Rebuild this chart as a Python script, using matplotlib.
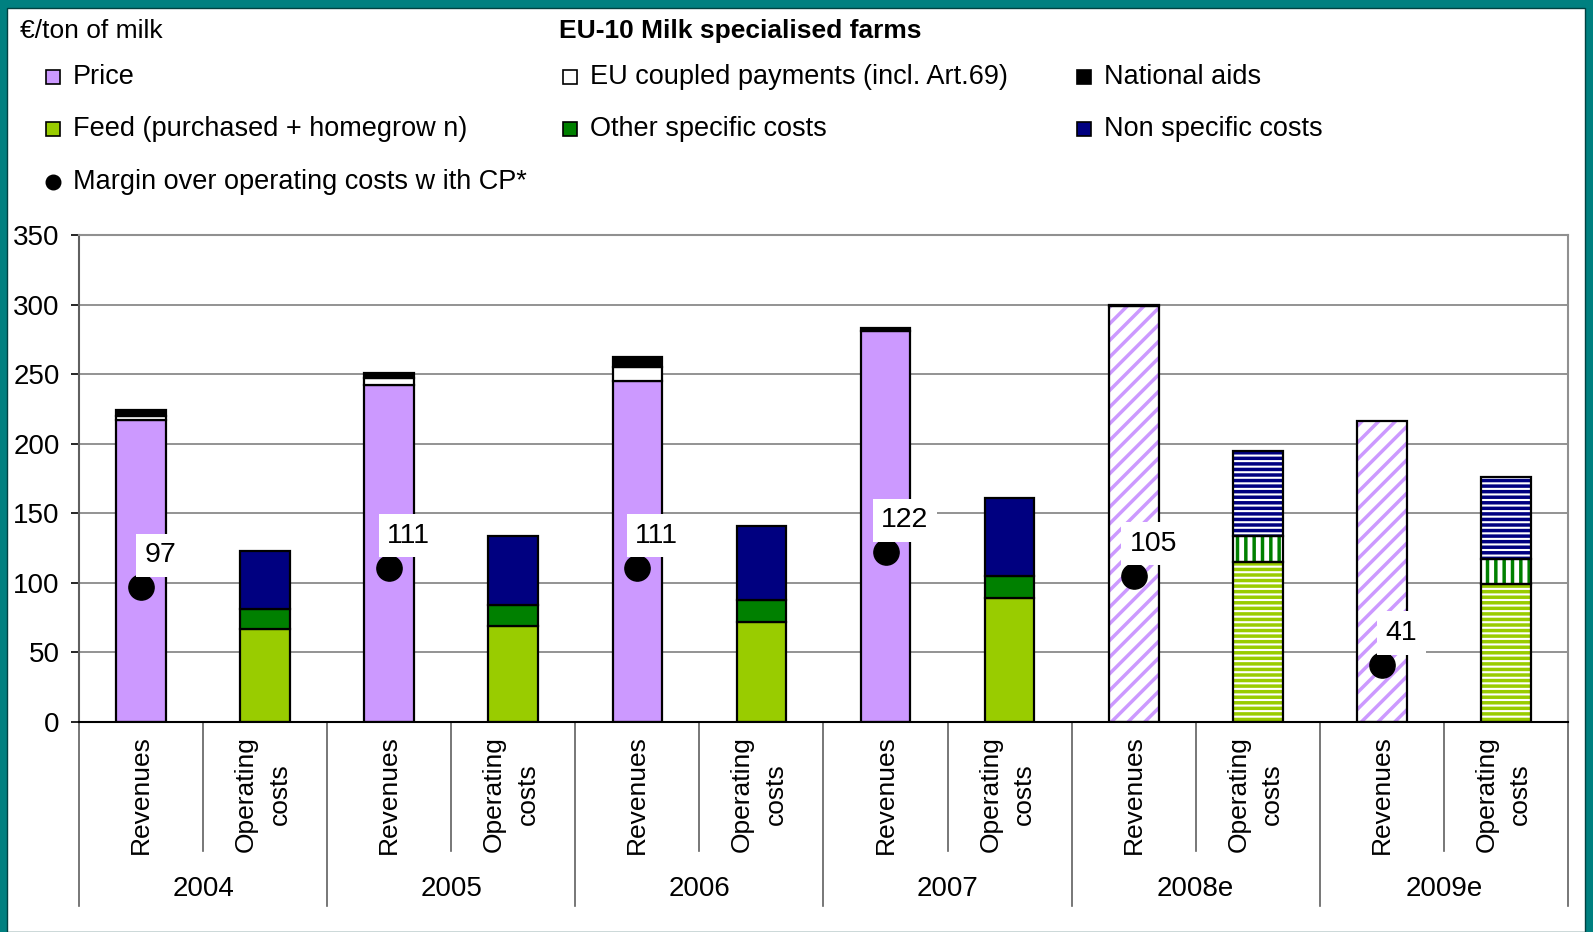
import numpy as np
import matplotlib.pyplot as plt
from matplotlib.patches import Rectangle
from matplotlib.lines import Line2D

plt.rcParams['font.family'] = ['Liberation Sans', 'DejaVu Sans']
plt.rcParams['hatch.linewidth'] = 2.5

"###################### data (EUR / ton of milk) ######################"
years = ['2004', '2005', '2006', '2007', '2008e', '2009e']
price = [217, 242, 245, 281, 299, 216]
eu_coupled = [3, 5, 10, 0, 0, 0]
national_aids = [4, 4, 7, 2, 1, 0]
feed = [67, 69, 72, 89, 115, 99]
other_specific = [14, 15, 16, 16, 19, 18]
non_specific = [42, 50, 53, 56, 61, 59]
margin = [97, 111, 111, 122, 105, 41]
estimate = [False, False, False, False, True, True]

c_price = '#CC99FF'
c_eu = 'white'
c_nat = 'black'
c_feed = '#99CC00'
c_other = '#008000'
c_non = '#000080'

W, H = 1593, 932
fig = plt.figure(figsize=(W / 100, H / 100), dpi=100, facecolor='#008080')
fig.add_artist(Rectangle((7 / W, 0), (W - 15) / W, (H - 8) / H, transform=fig.transFigure,
                         facecolor='white', edgecolor='#004040', linewidth=1, zorder=0))

ax = fig.add_axes([79 / W, 1 - 722 / H, (1568 - 79) / W, (722 - 235) / H])
ax.set_facecolor('white')
ax.set_axisbelow(True)
bw = 0.4


def seg(x, h, b, color, hatched, hatch):
    if h <= 0:
        return
    if hatched and hatch:
        ax.bar(x, h, bw, bottom=b, color='white', edgecolor=color, hatch=hatch, linewidth=0, zorder=2)
        ax.bar(x, h, bw, bottom=b, fill=False, edgecolor='black', linewidth=1.6, zorder=3)
    else:
        ax.bar(x, h, bw, bottom=b, color=color, edgecolor='black', linewidth=1.6, zorder=2)


for i in range(len(years)):
    xr, xo = 2 * i, 2 * i + 1
    e = estimate[i]
    # revenues
    seg(xr, price[i], 0, c_price, e, '//')
    seg(xr, eu_coupled[i], price[i], c_eu, e, None)
    seg(xr, national_aids[i], price[i] + eu_coupled[i], c_nat, e, None)
    # operating costs
    seg(xo, feed[i], 0, c_feed, e, '---')
    seg(xo, other_specific[i], feed[i], c_other, e, '||')
    seg(xo, non_specific[i], feed[i] + other_specific[i], c_non, e, '---')

rev_x = np.arange(len(years)) * 2
ax.scatter(rev_x, margin, s=330, color='black', zorder=5)
for x, m in zip(rev_x, margin):
    ax.annotate(str(m), (x, m), xytext=(14, 23), textcoords='offset points', ha='center', va='center',
                fontsize=20.5, zorder=6,
                bbox=dict(boxstyle='square,pad=0.3', facecolor='white', edgecolor='none'))

ax.set_xlim(-0.5, 11.5)
ax.set_ylim(0, 350)
ax.set_yticks(np.arange(0, 351, 50))
ax.tick_params(axis='y', labelsize=20, length=6, width=1.2, direction='out', pad=8)
ax.set_xticks([])
ax.yaxis.grid(color='#808080', linewidth=1.2)
for s in ['top', 'right']:
    ax.spines[s].set_color('#909090')
    ax.spines[s].set_linewidth(1.5)
ax.spines['left'].set_color('#606060')
ax.spines['left'].set_linewidth(1.5)
ax.spines['bottom'].set_color('black')
ax.spines['bottom'].set_linewidth(1.5)

# two-level category axis
tr = ax.get_xaxis_transform()
for i in range(len(years)):
    ax.text(2 * i, -0.148, 'Revenues', transform=tr, rotation=90, ha='center', va='center', fontsize=19)
    ax.text(2 * i + 0.98, -0.148, 'Operating\ncosts', transform=tr, rotation=90, ha='center', va='center',
            fontsize=19, multialignment='center', linespacing=1.5)
    ax.text(2 * i + 0.5, -0.342, years[i], transform=tr, ha='center', va='center', fontsize=20)
    ax.add_line(Line2D([2 * i + 0.5] * 2, [0, -0.265], transform=tr, color='#606060', linewidth=1.2, clip_on=False))
for k in range(len(years) + 1):
    ax.add_line(Line2D([2 * k - 0.5] * 2, [0, -0.377], transform=tr, color='#606060', linewidth=1.2, clip_on=False))

# header texts and legend (figure pixel coordinates)
lax = fig.add_axes([0, 0, 1, 1])
lax.set_xlim(0, W)
lax.set_ylim(H, 0)
lax.axis('off')
lax.text(20, 31, '\u20ac/ton of milk', fontsize=19, va='center', ha='left')
lax.text(559, 31, 'EU-10 Milk specialised farms', fontsize=19, fontweight='bold', va='center', ha='left')

items = [
    (53, 77, 'Price', c_price, 'sq'),
    (570, 77, 'EU coupled payments (incl. Art.69)', c_eu, 'sq'),
    (1084, 77, 'National aids', c_nat, 'sq'),
    (53, 129, 'Feed (purchased + homegrow n)', c_feed, 'sq'),
    (570, 129, 'Other specific costs', c_other, 'sq'),
    (1084, 129, 'Non specific costs', c_non, 'sq'),
    (53, 182, 'Margin over operating costs w ith CP*', 'black', 'dot'),
]
for x, y, lab, col, kind in items:
    if kind == 'sq':
        lax.add_patch(Rectangle((x - 7, y - 7), 14, 14, facecolor=col, edgecolor='black', linewidth=1.2))
    else:
        lax.scatter([x], [y], s=110, color=col)
    lax.text(x + 20, y, lab, fontsize=19.5, va='center', ha='left')

fig.savefig('out.png', dpi=100, facecolor=fig.get_facecolor())
